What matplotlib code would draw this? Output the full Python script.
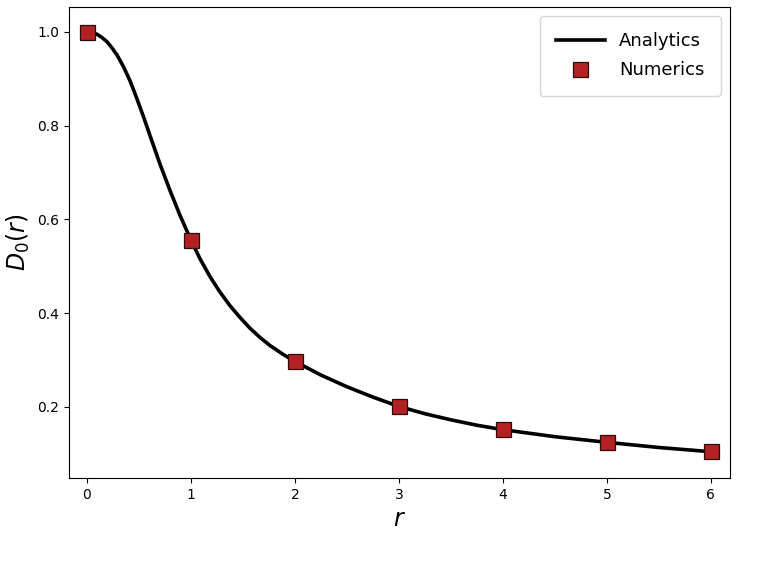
import matplotlib
matplotlib.use('Agg')
import matplotlib.pyplot as plt

# analytic curve
r_line = [0.0, 0.05, 0.096, 0.144, 0.192, 0.24, 0.288, 0.353, 0.417, 0.481, 0.545, 0.609, 0.702,
          0.798, 0.894, 1.0, 1.087, 1.183, 1.279, 1.375, 1.471, 1.567, 1.66,
          1.76, 1.88, 2.0, 2.25, 2.5, 2.75, 3.0, 3.25, 3.5, 3.75, 4.0,
          4.5, 5.0, 5.5, 6.0]
d_line = [1.0, 0.9985, 0.995, 0.988, 0.979, 0.966, 0.951, 0.925, 0.894, 0.857, 0.818, 0.777, 0.718,
          0.662, 0.609, 0.556, 0.516, 0.478, 0.445, 0.416, 0.391, 0.368, 0.349,
          0.331, 0.313, 0.297, 0.268, 0.243, 0.221, 0.201, 0.1855, 0.1725, 0.161, 0.1515,
          0.1365, 0.1245, 0.1135, 0.1045]

# numerical points
r_num = [0, 1, 2, 3, 4, 5, 6]
d_num = [1.0, 0.556, 0.298, 0.201, 0.152, 0.125, 0.105]

fig = plt.figure(figsize=(7.58, 5.61), dpi=100)
ax = fig.add_axes([0.091, 0.148, 0.872, 0.8395])

ax.plot(r_line, d_line, '-', color='black', lw=2.6, label='Analytics', zorder=2,
        solid_joinstyle='round')
ax.plot(r_num, d_num, 's', color='#b22222', mec='#2a0c0c', mew=0.9,
        markersize=10.8, label='Numerics', linestyle='none', zorder=3)

ax.set_xlim(-0.173, 6.183)
ax.set_ylim(0.0485, 1.053)
ax.set_xticks([0, 1, 2, 3, 4, 5, 6])
ax.set_yticks([0.2, 0.4, 0.6, 0.8, 1.0])
ax.tick_params(labelsize=10)
ax.set_xlabel(r'$r$', fontsize=17)
ax.set_ylabel(r'$D_0(r)$', fontsize=17)

ax.legend(loc='upper right', fontsize=13, borderpad=0.9, handlelength=2.7,
          labelspacing=0.62, handletextpad=0.8)

plt.savefig('out.png', dpi=100)
